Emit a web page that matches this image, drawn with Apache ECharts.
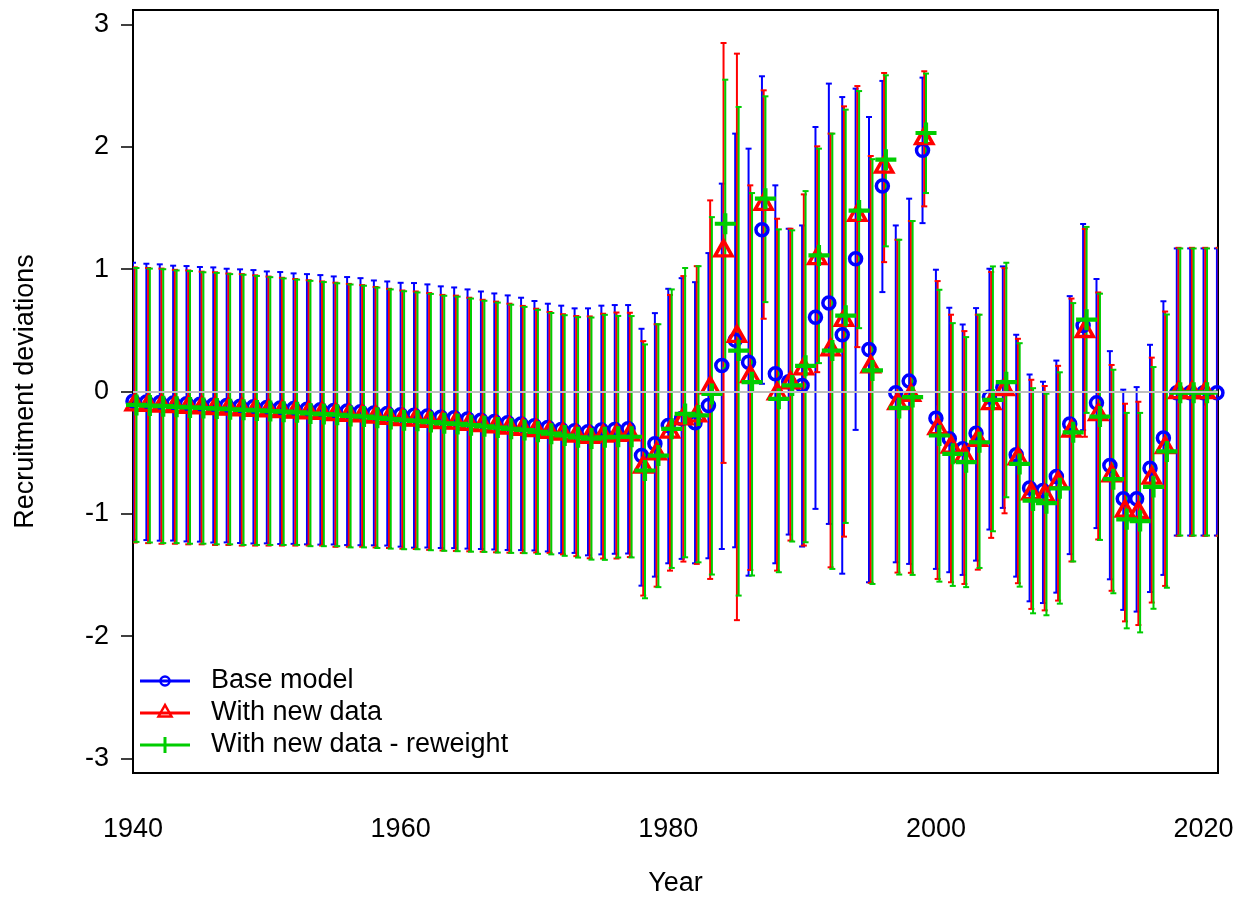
<!DOCTYPE html>
<html>
<head>
<meta charset="utf-8">
<title>Recruitment deviations</title>
<script src="https://cdn.jsdelivr.net/npm/echarts@6/dist/echarts.min.js"></script>
<style>
  html, body { margin: 0; padding: 0; background: #fff; }
  #main { width: 1245px; height: 903px; }
</style>
</head>
<body>
<div id="main"></div>
<script>
// years 1940..2021
var firstYear = 1940, lastYear = 2021;
var years = [];
for (var y = firstYear; y <= lastYear; y++) years.push(y);

var seriesNames = ['Base model', 'With new data', 'With new data - reweight'];
var xTicks = [1940, 1960, 1980, 2000, 2020];
var yTicks = [-3, -2, -1, 0, 1, 2, 3];

// Base model
var baseDev = [-0.08,-0.085,-0.09,-0.095,-0.10,-0.105,-0.11,-0.115,-0.12,-0.125,
  -0.13,-0.135,-0.14,-0.145,-0.15,-0.155,-0.16,-0.165,-0.175,-0.18,
  -0.19,-0.195,-0.20,-0.21,-0.215,-0.225,-0.235,-0.245,-0.255,-0.265,
  -0.28,-0.295,-0.31,-0.32,-0.33,-0.315,-0.31,-0.305,
  -0.524,-0.428,-0.278,-0.22,-0.255,-0.115,0.213,0.42,0.24,1.323,
  0.145,0.08,0.05,0.608,0.723,0.464,1.086,0.344,1.68,-0.01,
  0.085,1.972,-0.218,-0.387,-0.469,-0.341,-0.046,0.035,-0.518,-0.79,
  -0.81,-0.696,-0.265,0.539,-0.093,-0.605,-0.877,-0.877,-0.627,-0.38,
  -0.01,-0.01,-0.01,-0.01];
var baseLo = [-1.213,-1.215,-1.22,-1.219,-1.226,-1.228,-1.235,-1.234,-1.239,-1.243,
  -1.242,-1.247,-1.246,-1.25,-1.252,-1.251,-1.256,-1.257,-1.258,-1.26,
  -1.269,-1.277,-1.276,-1.28,-1.281,-1.285,-1.288,-1.292,-1.296,-1.297,
  -1.30,-1.308,-1.322,-1.32,-1.34,-1.332,-1.327,-1.325,
  -1.588,-1.514,-1.405,-1.369,-1.405,-1.364,-1.288,-1.274,-1.506,0.063,
  -1.405,-1.17,-1.268,-0.96,-1.083,-1.49,-0.314,-1.56,0.813,-1.397,
  -1.41,1.377,-1.451,-1.478,-1.5,-1.383,-1.129,-0.952,-1.514,-1.716,
  -1.73,-1.645,-1.33,-0.316,-1.117,-1.536,-1.786,-1.8,-1.64,-1.5,
  -1.178,-1.178,-1.178,-1.178];
var baseHi = [1.053,1.045,1.040,1.029,1.026,1.018,1.015,1.004,0.999,0.993,
  0.982,0.977,0.966,0.960,0.952,0.941,0.936,0.927,0.908,0.900,
  0.889,0.887,0.876,0.860,0.851,0.835,0.818,0.802,0.786,0.767,
  0.740,0.718,0.702,0.680,0.680,0.702,0.707,0.707,
  0.513,0.641,0.84,0.927,0.894,1.132,1.70,2.109,1.986,2.578,
  1.686,1.331,1.358,2.163,2.518,2.408,2.477,2.245,2.54,1.358,
  1.577,2.567,0.996,0.685,0.548,0.682,1.004,1.023,0.464,0.139,
  0.08,0.253,0.78,1.37,0.92,0.33,0.015,0.036,0.382,0.738,
  1.17,1.17,1.17,1.17];

// With new data
var newDev = [-0.11,-0.115,-0.12,-0.125,-0.13,-0.135,-0.14,-0.145,-0.15,-0.155,
  -0.16,-0.165,-0.17,-0.175,-0.18,-0.19,-0.195,-0.20,-0.21,-0.22,
  -0.23,-0.235,-0.245,-0.255,-0.26,-0.27,-0.28,-0.29,-0.30,-0.31,
  -0.32,-0.335,-0.35,-0.365,-0.375,-0.365,-0.36,-0.355,
  -0.62,-0.51,-0.333,-0.224,-0.2,0.03,1.15,0.45,0.12,1.53,
  -0.02,0.07,0.185,1.086,0.34,0.58,1.44,0.2,1.835,-0.1,
  -0.033,2.068,-0.305,-0.455,-0.532,-0.401,-0.1,0.014,-0.551,-0.837,
  -0.852,-0.747,-0.325,0.49,-0.19,-0.69,-0.98,-0.99,-0.71,-0.46,
  -0.01,-0.01,-0.01,-0.01];
var newLo = [-1.235,-1.24,-1.245,-1.245,-1.25,-1.25,-1.255,-1.255,-1.26,-1.26,
  -1.26,-1.26,-1.26,-1.26,-1.26,-1.27,-1.27,-1.27,-1.275,-1.28,
  -1.286,-1.288,-1.295,-1.30,-1.304,-1.307,-1.31,-1.315,-1.318,-1.32,
  -1.317,-1.32,-1.332,-1.347,-1.364,-1.366,-1.366,-1.354,
  -1.669,-1.596,-1.465,-1.391,-1.41,-1.533,-0.584,-1.87,-1.46,0.595,
  -1.465,-1.219,-1.26,0.158,-1.438,-1.187,0.363,-1.565,1.058,-1.481,
  -1.483,1.514,-1.533,-1.56,-1.574,-1.457,-1.197,-0.996,-1.568,-1.778,
  -1.79,-1.71,-1.39,-0.37,-1.21,-1.63,-1.88,-1.91,-1.726,-1.59,
  -1.18,-1.18,-1.18,-1.18];
var newHi = [1.015,1.01,1.005,0.995,0.99,0.98,0.975,0.965,0.96,0.95,
  0.94,0.93,0.92,0.91,0.90,0.89,0.88,0.87,0.855,0.84,
  0.826,0.818,0.805,0.79,0.784,0.767,0.75,0.735,0.718,0.70,
  0.677,0.65,0.632,0.617,0.614,0.636,0.646,0.644,
  0.412,0.55,0.79,0.944,1.025,1.563,2.85,2.763,1.686,2.463,
  1.413,1.331,1.612,2.005,2.109,2.332,2.498,1.926,2.605,1.241,
  1.394,2.619,0.903,0.628,0.494,0.628,0.977,1.009,0.431,0.096,
  0.045,0.21,0.76,1.33,0.81,0.217,-0.1,-0.084,0.277,0.654,
  1.175,1.175,1.175,1.175];

// With new data - reweight
var rwDev = [-0.11,-0.115,-0.12,-0.125,-0.13,-0.135,-0.14,-0.145,-0.15,-0.155,
  -0.16,-0.165,-0.17,-0.18,-0.185,-0.19,-0.2,-0.205,-0.215,-0.225,
  -0.235,-0.24,-0.25,-0.26,-0.265,-0.275,-0.285,-0.295,-0.305,-0.315,
  -0.33,-0.345,-0.36,-0.375,-0.385,-0.375,-0.37,-0.37,
  -0.646,-0.524,-0.305,-0.183,-0.196,-0.02,1.372,0.335,0.076,1.577,
  -0.06,0.05,0.21,1.113,0.335,0.62,1.48,0.172,1.896,-0.134,
  -0.046,2.114,-0.36,-0.51,-0.578,-0.415,-0.068,0.076,-0.592,-0.892,
  -0.913,-0.792,-0.334,0.587,-0.205,-0.717,-1.045,-1.06,-0.78,-0.49,
  -0.01,-0.01,-0.01,-0.01];
var rwLo = [-1.23,-1.235,-1.24,-1.24,-1.245,-1.245,-1.25,-1.25,-1.255,-1.255,
  -1.255,-1.255,-1.255,-1.265,-1.265,-1.265,-1.275,-1.275,-1.28,-1.285,
  -1.29,-1.29,-1.298,-1.303,-1.306,-1.31,-1.312,-1.317,-1.32,-1.322,
  -1.328,-1.332,-1.344,-1.358,-1.375,-1.377,-1.358,-1.357,
  -1.691,-1.6,-1.443,-1.356,-1.397,-1.497,0.19,-1.669,-1.505,0.731,
  -1.478,-1.227,-1.233,0.232,-1.451,-1.075,0.518,-1.574,1.187,-1.497,
  -1.5,1.623,-1.555,-1.59,-1.6,-1.443,-1.143,-0.865,-1.596,-1.814,
  -1.83,-1.735,-1.39,-0.175,-1.214,-1.65,-1.937,-1.97,-1.777,-1.605,
  -1.178,-1.178,-1.178,-1.178];
var rwHi = [1.01,1.005,1.0,0.99,0.985,0.975,0.97,0.96,0.955,0.945,
  0.935,0.925,0.915,0.905,0.895,0.885,0.875,0.865,0.85,0.835,
  0.82,0.81,0.798,0.783,0.776,0.76,0.742,0.727,0.71,0.692,
  0.668,0.642,0.624,0.608,0.605,0.627,0.618,0.617,
  0.385,0.55,0.835,1.01,1.025,1.426,2.55,2.327,1.623,2.414,
  1.326,1.318,1.639,1.986,2.109,2.305,2.457,1.9,2.586,1.241,
  1.394,2.6,0.832,0.559,0.445,0.628,1.023,1.053,0.395,0.027,
  -0.018,0.157,0.723,1.346,0.80,0.178,-0.175,-0.175,0.2,0.63,
  1.17,1.17,1.17,1.17];

var BLUE = '#0000FF', RED = '#FF0000', GREEN = '#00CD00';
var FONT = '"Liberation Sans", Arial, sans-serif';
var FS = 27;
var plusPath = 'path://M4,0H6V4H10V6H6V10H4V6H0V4H4Z';

var models = [
  {name: seriesNames[0], dev: baseDev, lo: baseLo, hi: baseHi, color: BLUE, shift: 0,
   symbol: 'circle', size: 12, offset: [0, 0]},
  {name: seriesNames[1], dev: newDev, lo: newLo, hi: newHi, color: RED, shift: 0.13,
   symbol: 'triangle', size: [17, 15], offset: [0, -2.6]},
  {name: seriesNames[2], dev: rwDev, lo: rwLo, hi: rwHi, color: GREEN, shift: 0.26,
   symbol: plusPath, size: 21, offset: [0, 0]}
];

function errRenderer(color) {
    return function(params, api) {
        var x = api.value(0);
        var p1 = api.coord([x, api.value(1)]);
        var p2 = api.coord([x, api.value(2)]);
        var w = 3;
        var st = {stroke: color, lineWidth: 2};
        return {
            type: 'group',
            children: [
                {type: 'line', shape: {x1: p1[0], y1: p1[1], x2: p2[0], y2: p2[1]}, style: st},
                {type: 'line', shape: {x1: p1[0] - w, y1: p1[1], x2: p1[0] + w, y2: p1[1]}, style: st},
                {type: 'line', shape: {x1: p2[0] - w, y1: p2[1], x2: p2[0] + w, y2: p2[1]}, style: st}
            ]
        };
    };
}

var series = [];
// zero reference line
series.push({
    type: 'line', data: [], z: 0, silent: true,
    markLine: {
        silent: true, symbol: 'none', label: {show: false},
        lineStyle: {color: '#BEBEBE', width: 2, type: 'solid'},
        data: [{yAxis: 0}]
    }
});
// error bars
models.forEach(function(m) {
    series.push({
        type: 'custom', name: m.name + ' CI', z: 1, clip: true, silent: true,
        renderItem: errRenderer(m.color),
        encode: {x: 0, y: [1, 2]},
        data: years.map(function(yr, i) { return [yr + m.shift, m.lo[i], m.hi[i]]; })
    });
});
// points
models.forEach(function(m) {
    var filled = m.symbol === plusPath;
    series.push({
        type: 'scatter', name: m.name, z: 2, silent: true,
        symbol: m.symbol, symbolSize: m.size, symbolOffset: m.offset,
        itemStyle: filled ? {color: m.color, opacity: 1}
                          : {color: 'rgba(0,0,0,0)', borderColor: m.color, borderWidth: 3.5, opacity: 1},
        data: years.map(function(yr, i) { return [yr + m.shift, m.dev[i]]; })
    });
});

// legend drawn like the R legend: line + symbol + text
var legendY = [681, 713, 745];
var graphics = [];
models.forEach(function(m, k) {
    var cy = legendY[k];
    graphics.push({type: 'line', shape: {x1: 140, y1: cy, x2: 190, y2: cy},
        style: {stroke: m.color, lineWidth: 3}});
    if (k === 0) {
        graphics.push({type: 'circle', shape: {cx: 165, cy: cy, r: 4.5},
            style: {fill: 'none', stroke: m.color, lineWidth: 2.5}});
    } else if (k === 1) {
        graphics.push({type: 'polygon', shape: {points: [[165, cy - 8], [158.5, cy + 3.5], [171.5, cy + 3.5]]},
            style: {fill: 'none', stroke: m.color, lineWidth: 2.5}});
    } else {
        graphics.push({type: 'line', shape: {x1: 165, y1: cy - 8, x2: 165, y2: cy + 8},
            style: {stroke: m.color, lineWidth: 3}});
    }
    graphics.push({type: 'text', x: 211, y: cy,
        style: {text: m.name, fill: '#000', font: FS + 'px ' + FONT, verticalAlign: 'middle', align: 'left'}});
});

var myChart = echarts.init(document.getElementById('main'), null, {renderer: 'canvas'});
var option = {
    animation: false,
    backgroundColor: '#fff',
    grid: {
        left: 133, right: 27, top: 10, bottom: 130,
        show: true, borderColor: '#000', borderWidth: 2, backgroundColor: 'transparent'
    },
    xAxis: {
        type: 'value', min: 1940, max: 2021.08,
        name: 'Year', nameLocation: 'middle', nameGap: 97,
        nameTextStyle: {fontSize: FS, color: '#000', fontFamily: FONT},
        splitLine: {show: false},
        axisLine: {show: false},
        axisTick: {show: true, inside: false, length: 14, customValues: xTicks,
            lineStyle: {color: '#000', width: 1.5}},
        axisLabel: {show: true, margin: 43, fontSize: FS, color: '#000', fontFamily: FONT,
            customValues: xTicks, formatter: function(v) { return String(v); }}
    },
    yAxis: {
        type: 'value', min: -3.12, max: 3.12,
        name: 'Recruitment deviations', nameLocation: 'middle', nameGap: 94, nameRotate: 90,
        nameTextStyle: {fontSize: FS, color: '#000', fontFamily: FONT},
        splitLine: {show: false},
        axisLine: {show: false},
        axisTick: {show: true, inside: false, length: 12, customValues: yTicks,
            lineStyle: {color: '#000', width: 1.5}},
        axisLabel: {show: true, margin: 24, fontSize: FS, color: '#000', fontFamily: FONT,
            customValues: yTicks, formatter: function(v) { return String(v); }}
    },
    graphic: graphics,
    series: series
};
myChart.setOption(option);
</script>
</body>
</html>
